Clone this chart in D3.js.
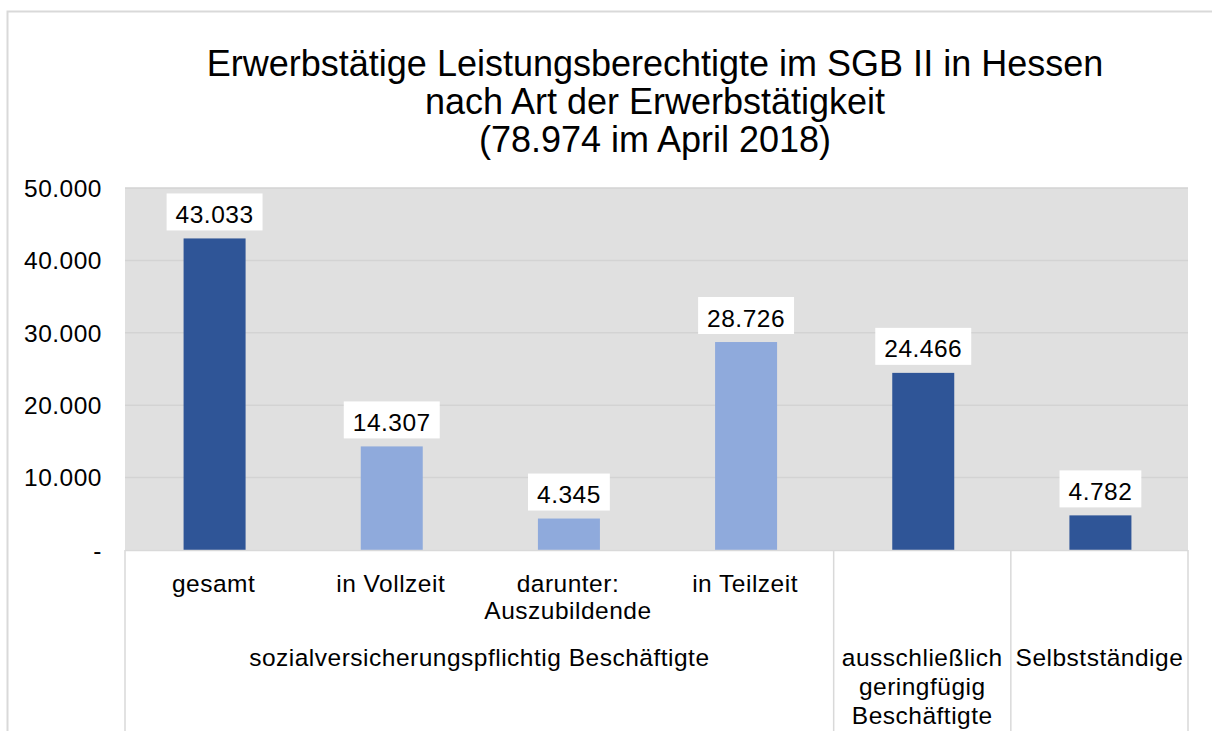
<!DOCTYPE html>
<html><head><meta charset="utf-8">
<script src="https://cdn.jsdelivr.net/npm/d3@7"></script>
<style>body{margin:0;background:#fff}svg{display:block;font-family:"Liberation Sans",Arial,sans-serif}</style>
</head><body><svg id="c" width="1212" height="731"></svg>
<script>
const categories = ["gesamt", "in Vollzeit", "darunter:\nAuszubildende", "in Teilzeit", "", ""];
const values = [43033, 14307, 4345, 28726, 24466, 4782];
const barShade = ["dark", "light", "light", "light", "dark", "dark"];
const groups = [
  {label: "sozialversicherungspflichtig Beschäftigte", from: 0, to: 3},
  {label: "ausschließlich\ngeringfügig\nBeschäftigte", from: 4, to: 4},
  {label: "Selbstständige", from: 5, to: 5}
];
const yTicks = [0, 10000, 20000, 30000, 40000, 50000];
const titleLines = ["Erwerbstätige Leistungsberechtigte im SGB II in Hessen", "nach Art der Erwerbstätigkeit", "(78.974 im April 2018)"];

const colors = {dark: "#2F5597", light: "#8FAADC"};
const FS = 24.5, LS = "0.5px";
const svg = d3.select("#c");
const L = 125, R = 1188, T = 188, B = 550;
const x = d3.scaleBand().domain(d3.range(values.length)).range([L, R]).paddingInner(0).paddingOuter(0);
const y = d3.scaleLinear().domain([0, 50000]).range([B, T]);
const fmt = v => v === 0 ? "-" : d3.format(",")(v).replace(/,/g, ".");

// outer frame
svg.append("path").attr("d", `M7.5,731 V11.5 H1212`).attr("fill", "none").attr("stroke", "#D9D9D9").attr("stroke-width", 2);

// plot bg
svg.append("rect").attr("x", L).attr("y", T).attr("width", R - L).attr("height", B - T).attr("fill", "#E0E0E0");

// gridlines
svg.append("g").selectAll("line").data(yTicks.filter(d => d > 0)).join("line")
  .attr("x1", L).attr("x2", R).attr("y1", d => y(d)).attr("y2", d => y(d))
  .attr("stroke", "#D3D3D3").attr("stroke-width", 1.5);

// y axis labels
const yAxis = d3.axisLeft(y).tickValues(yTicks).tickFormat(fmt).tickSize(0).tickPadding(0);
const ga = svg.append("g").attr("transform", `translate(${L - 23},0)`).call(yAxis);
ga.select(".domain").remove();
ga.selectAll("text").attr("font-size", FS).attr("fill", "#000").attr("letter-spacing", LS)
  .attr("font-family", "Liberation Sans, Arial, sans-serif").attr("dy", "0.34em");

// bars
const bw = 62;
svg.append("g").selectAll("rect").data(values).join("rect")
  .attr("x", (d, i) => x(i) + x.bandwidth() / 2 - bw / 2 + 1).attr("width", bw)
  .attr("y", d => y(d)).attr("height", d => B - y(d))
  .attr("fill", (d, i) => colors[barShade[i]]);

// data labels
const lg = svg.append("g").selectAll("g").data(values).join("g")
  .attr("transform", (d, i) => `translate(${x(i) + x.bandwidth() / 2 + 1},${y(d)})`);
const lbox = lg.append("rect").attr("fill", "#fff");
const ltxt = lg.append("text").attr("text-anchor", "middle").attr("y", -15.5).attr("font-size", FS).attr("letter-spacing", LS).text(d => fmt(d));
ltxt.each(function(d, i) {
  const w = this.getComputedTextLength();
  d3.select(lbox.nodes()[i]).attr("x", -w / 2 - 9).attr("width", w + 18).attr("y", -45).attr("height", 37);
});

// category axis
svg.append("line").attr("x1", L).attr("x2", R).attr("y1", B + 0.5).attr("y2", B + 0.5).attr("stroke", "#D9D9D9").attr("stroke-width", 1.5);
const seps = [L, x(4), x(5), R];
svg.append("g").selectAll("line").data(seps).join("line")
  .attr("x1", d => d).attr("x2", d => d).attr("y1", B).attr("y2", 731)
  .attr("stroke", "#D9D9D9").attr("stroke-width", 1.5);

categories.forEach((c, i) => {
  if (!c) return;
  const cx = x(i) + x.bandwidth() / 2;
  const t = svg.append("text").attr("text-anchor", "middle").attr("font-size", FS).attr("letter-spacing", LS).attr("x", cx).attr("y", 592);
  c.split("\n").forEach((s, k) => t.append("tspan").attr("x", cx).attr("dy", k ? 27 : 0).text(s));
});
groups.forEach(g => {
  const cx = (x(g.from) + x(g.to) + x.bandwidth()) / 2;
  const t = svg.append("text").attr("text-anchor", "middle").attr("font-size", FS).attr("letter-spacing", LS).attr("x", cx).attr("y", 666);
  g.label.split("\n").forEach((s, k) => t.append("tspan").attr("x", cx).attr("dy", k ? 29 : 0).text(s));
});

// title
const tt = svg.append("text").attr("text-anchor", "middle").attr("font-size", 36).attr("fill", "#000");
titleLines.forEach((s, k) => tt.append("tspan").attr("x", 655).attr("y", 76 + k * 38).text(s));
</script></body></html>
